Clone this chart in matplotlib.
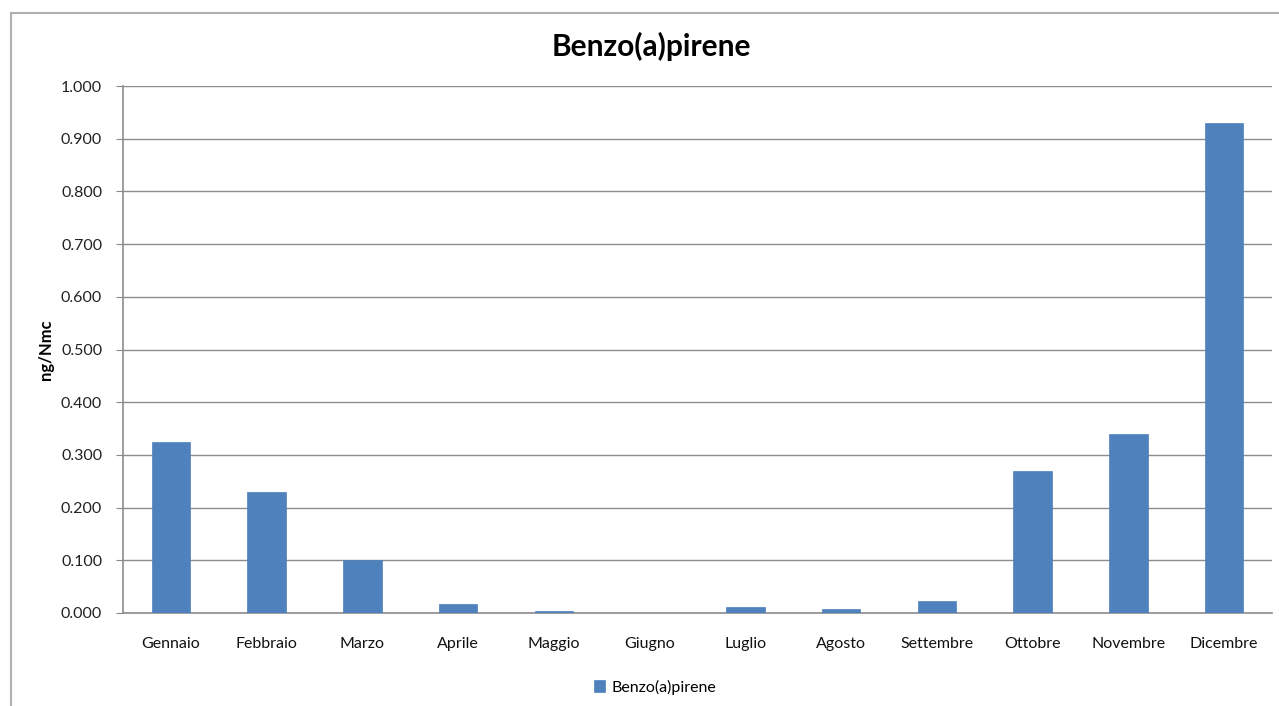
import matplotlib
matplotlib.use("Agg")
import matplotlib.pyplot as plt
from matplotlib.patches import Rectangle
import numpy as np

months = ["Gennaio", "Febbraio", "Marzo", "Aprile", "Maggio", "Giugno",
          "Luglio", "Agosto", "Settembre", "Ottobre", "Novembre", "Dicembre"]
values = [0.324, 0.230, 0.100, 0.018, 0.003, 0.000,
          0.011, 0.008, 0.023, 0.269, 0.340, 0.930]
yticks = [0.0, 0.1, 0.2, 0.3, 0.4, 0.5, 0.6, 0.7, 0.8, 0.9, 1.0]
series_name = "Benzo(a)pirene"

plt.rcParams['font.family'] = ['Lato', 'DejaVu Sans']

W, H = 1279, 706
fig = plt.figure(figsize=(W / 100, H / 100), dpi=100)
fig.patch.set_facecolor('white')

# outer chart border
fig.patches.append(Rectangle((11 / W, -0.1), 1.2, 1 - 13 / H + 0.1,
                             transform=fig.transFigure, fill=False,
                             edgecolor='#b0b0b0', linewidth=1.5))

left, right, top, bottom = 123, 1272, 86, 613
ax = fig.add_axes([left / W, 1 - bottom / H, (right - left) / W, (bottom - top) / H])

x = np.arange(len(months))
ax.bar(x, values, width=0.4, color='#4f81bd', edgecolor='#4f81bd', linewidth=0.5,
       label=series_name, zorder=3)

ax.set_xlim(-0.5, len(months) - 0.5)
ax.set_ylim(0, 1.0)
ax.set_yticks(yticks)
ax.set_yticklabels([f"{v:.3f}" for v in yticks], fontsize=11.5, color='#222222')
ax.set_xticks(x)
ax.set_xticklabels(months, fontsize=11.5, color='#111111')
ax.tick_params(axis='x', length=0, pad=17)
ax.tick_params(axis='y', length=5, color='#888888', pad=10)

ax.grid(axis='y', color='#8c8c8c', linewidth=1, zorder=0)
for s in ['top', 'right']:
    ax.spines[s].set_visible(False)
for s in ['left', 'bottom']:
    ax.spines[s].set_color('#8c8c8c')
    ax.spines[s].set_linewidth(1.2)

fig.text(651 / W, 1 - 46 / H, "Benzo(a)pirene", ha='center', va='center',
         fontsize=21.5, fontweight='bold', color='#000000')
fig.text(46 / W, 1 - 350 / H, "ng/Nmc", ha='center', va='center', rotation=90,
         fontsize=12, fontweight='bold', color='#000000')

leg = fig.legend(loc='center', bbox_to_anchor=(655 / W, 1 - 687 / H), frameon=False,
                 fontsize=11.5, handlelength=0.7, handleheight=0.7, handletextpad=0.4)

fig.savefig("out.png", dpi=100)
